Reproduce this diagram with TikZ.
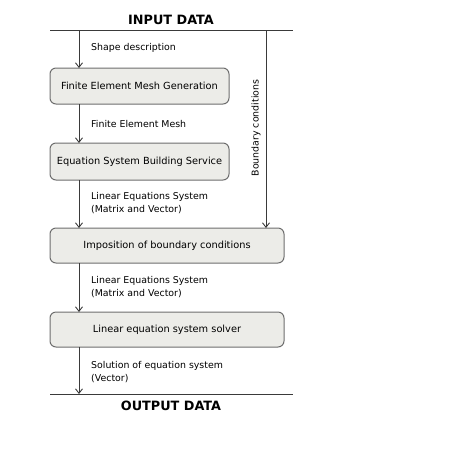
\documentclass[tikz,border=0pt]{standalone}
\usepackage{fontspec}
\setmainfont{DejaVu Sans}
\usetikzlibrary{arrows.meta}
\definecolor{boxfill}{HTML}{ECECE8}
\definecolor{boxline}{HTML}{6E6E6E}
\definecolor{linec}{HTML}{3A3A3A}
\begin{document}
\begin{tikzpicture}[x=1pt,y=-1pt,
  procbox/.style={draw=boxline,fill=boxfill,rounded corners=6pt,line width=1pt},
  boxtxt/.style={font=\fontsize{9.8}{11}\selectfont},
  lab/.style={font=\fontsize{9.4}{13}\selectfont,anchor=west,align=left,inner sep=0pt},
  ttl/.style={font=\bfseries\fontsize{12.8}{14}\selectfont},
  flow/.style={draw=linec,line width=0.9pt,-{Straight Barb[length=4.5pt,width=7pt]}},
  bar/.style={draw=linec,line width=1pt}]
\useasboundingbox (0,0) rectangle (474,451);
% bars
\coordinate (inL) at (50,30);
\coordinate (inR) at (293,30);
\coordinate (outL) at (50,394);
\coordinate (outR) at (293,394);
\draw[bar] (inL) -- (inR);
\draw[bar] (outL) -- (outR);
\node[ttl] (tin) at (171,20) {INPUT DATA};
\node[ttl] (tout) at (171,406) {OUTPUT DATA};
% boxes
\path[procbox] (50,68) rectangle (229,104);
\node[boxtxt] (b1) at (139.5,86) {Finite Element Mesh Generation};
\path[procbox] (50,143) rectangle (229,180);
\node[boxtxt] (b2) at (139.5,161.5) {Equation System Building Service};
\path[procbox] (50,228) rectangle (284,263);
\node[boxtxt] (b3) at (167,245.5) {Imposition of boundary conditions};
\path[procbox] (50,312) rectangle (284,347);
\node[boxtxt] (b4) at (167,329.5) {Linear equation system solver};
% connector coordinates
\coordinate (a0s) at (79,30);
\coordinate (a0e) at (79,68);
\coordinate (a1s) at (79,104);
\coordinate (a1e) at (79,143);
\coordinate (a2s) at (79,180);
\coordinate (a2e) at (79,228);
\coordinate (a3s) at (79,263);
\coordinate (a3e) at (79,312);
\coordinate (a4s) at (79,347);
\coordinate (a4e) at (79,394);
\coordinate (bcs) at (266,30);
\coordinate (bce) at (266,228);
\draw[flow] (a0s) -- (a0e);
\draw[flow] (a1s) -- (a1e);
\draw[flow] (a2s) -- (a2e);
\draw[flow] (a3s) -- (a3e);
\draw[flow] (a4s) -- (a4e);
\draw[flow] (bcs) -- (bce);
% labels
\node[lab] (l0) at (91,48) {Shape description};
\node[lab] (l1) at (91,124) {Finite Element Mesh};
\node[lab] (l2) at (91,203.5) {Linear Equations System\\(Matrix and Vector)};
\node[lab] (l3) at (91,287.5) {Linear Equations System\\(Matrix and Vector)};
\node[lab] (l4) at (91,372.5) {Solution of equation system\\(Vector)};
\node[font=\fontsize{9.4}{10}\selectfont,rotate=90,inner sep=0pt] (lbc) at (256,128) {Boundary conditions};
\end{tikzpicture}
\end{document}
